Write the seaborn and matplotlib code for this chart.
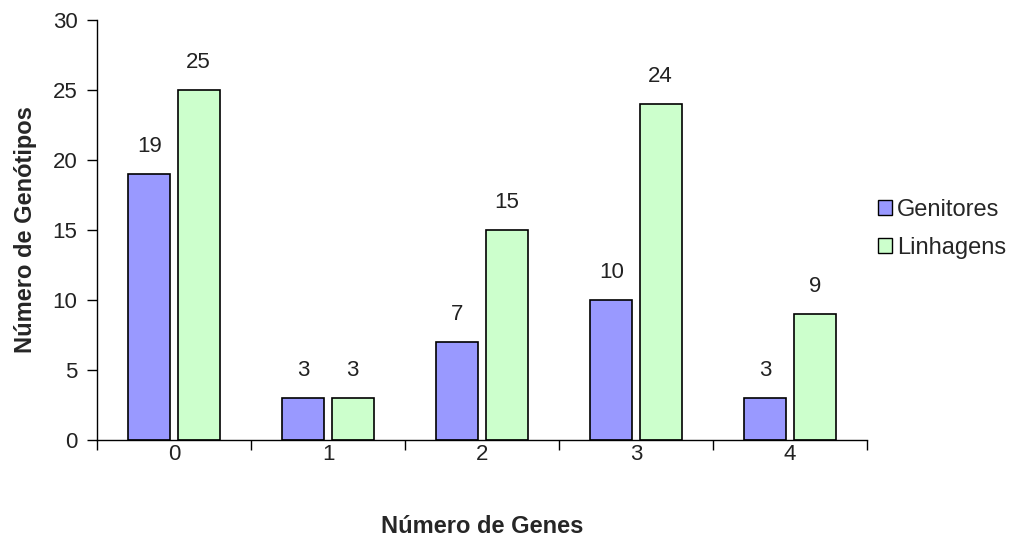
import matplotlib
matplotlib.use("Agg")
import matplotlib.pyplot as plt
import seaborn as sns
import pandas as pd
from matplotlib.patches import Patch

categories = ["0", "1", "2", "3", "4"]
genitores = [19, 3, 7, 10, 3]
linhagens = [25, 3, 15, 24, 9]
series_names = ["Genitores", "Linhagens"]
colors = ["#9999FF", "#CCFFCC"]

df = pd.DataFrame({
    "Número de Genes": categories * 2,
    "valor": genitores + linhagens,
    "serie": [series_names[0]] * len(categories) + [series_names[1]] * len(categories),
})

sns.set_theme(style="white")
plt.rcParams["font.family"] = ["Liberation Sans", "DejaVu Sans"]

fig = plt.figure(figsize=(10.16, 5.38), dpi=100)
ax = fig.add_axes([97/1016, 98/538, (867-97)/1016, (440-20)/538])

sns.barplot(data=df, x="Número de Genes", y="valor", hue="serie",
            palette=colors, width=0.64, gap=0.15, edgecolor="black",
            linewidth=1.2, ax=ax, legend=False, saturation=1)

for cont in ax.containers:
    ax.bar_label(cont, padding=12, fontsize=16, color="#222222")

ax.set_xlim(-0.5, 4.5)
ax.set_ylim(0, 30)
ax.set_yticks(range(0, 31, 5))
ax.set_xticks(range(5))
ax.set_xticklabels(categories)
ax.set_xticks([-0.5, 0.5, 1.5, 2.5, 3.5, 4.5], minor=True)
ax.tick_params(axis="x", which="major", length=0, pad=3, labelsize=16, labelcolor="#222222")
ax.tick_params(axis="x", which="minor", length=7, width=1, color="black", direction="out", bottom=True)
ax.tick_params(axis="y", length=7, width=1, color="black", direction="out", left=True,
               labelsize=16, labelcolor="#222222", pad=7)

for s in ["top", "right"]:
    ax.spines[s].set_visible(False)
for s in ["left", "bottom"]:
    ax.spines[s].set_color("black")
    ax.spines[s].set_linewidth(1)

ax.set_xlabel("Número de Genes", fontsize=17, fontweight="bold", labelpad=36)
ax.set_ylabel("Número de Genótipos", fontsize=17, fontweight="bold", labelpad=11)

handles = [Patch(facecolor=c, edgecolor="black", linewidth=1) for c in colors]
leg = fig.legend(handles, series_names, loc="center left",
                 bbox_to_anchor=(866/1016, 1 - 229/538),
                 frameon=False, fontsize=17, handlelength=0.6, handleheight=0.6,
                 handletextpad=0.2, labelspacing=0.7, borderpad=0)

fig.savefig("out.png", dpi=100)
